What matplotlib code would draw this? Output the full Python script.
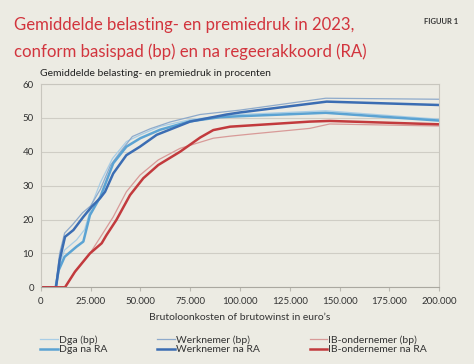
import matplotlib
matplotlib.use("Agg")
import matplotlib.pyplot as plt

# data (brutoloonkosten in euro, druk in procenten)
x_dga_bp = [0, 7500, 9000, 12000, 18000, 22000, 26000, 30000, 36000, 43000, 50000, 60000, 75000, 90000, 100000, 143000, 200000]
y_dga_bp = [0, 0, 6, 11, 14, 17, 25, 31, 38, 43, 45, 47.5, 49.5, 50.5, 51, 52.1, 49.6]

x_dga_ra = [0, 7500, 9000, 12000, 18000, 21400, 24700, 30000, 36400, 43000, 50000, 59900, 75000, 90000, 100000, 143000, 200000]
y_dga_ra = [0, 0, 5, 9, 12, 13.5, 21.3, 26.8, 36.6, 41.5, 44, 46.5, 49, 50.2, 50.5, 51.5, 49.2]

x_wn_bp = [0, 7500, 9500, 12000, 16000, 21000, 25000, 30000, 35000, 40000, 46000, 55000, 65000, 80000, 100000, 143000, 200000]
y_wn_bp = [0, 0, 10, 16, 18.5, 22, 24, 29, 36, 40, 44.5, 46.8, 48.8, 51, 52.3, 55.8, 55.5]

x_wn_ra = [0, 7700, 9500, 12200, 16400, 21400, 25600, 29800, 32300, 36400, 43000, 49800, 58200, 74900, 93300, 100000, 143500, 200000]
y_wn_ra = [0, 0, 8, 14.9, 16.9, 20.8, 23.8, 26.3, 28.2, 33.6, 39, 41.5, 45, 48.9, 51, 51.6, 54.8, 53.8]

x_ib_bp = [0, 12200, 17200, 24700, 30600, 36400, 43000, 49800, 59000, 69900, 86600, 95000, 105000, 135000, 145000, 200000]
y_ib_bp = [0, 0, 4.6, 10, 15.4, 20.8, 28.2, 33.1, 37.6, 41, 44, 44.6, 45.2, 46.9, 48.2, 47.6]

x_ib_ra = [0, 12200, 17200, 24700, 30600, 33000, 38000, 44800, 51500, 59000, 69900, 80000, 86600, 95000, 135000, 145000, 200000]
y_ib_ra = [0, 0, 4.6, 10, 13, 15.4, 19.9, 27.2, 32.2, 36.1, 40, 44.2, 46.4, 47.4, 48.9, 49.1, 48.1]

x_ticks = [0, 25000, 50000, 75000, 100000, 125000, 150000, 175000, 200000]
x_ticklabels = ["0", "25.000", "50.000", "75.000", "100.000", "125.000", "150.000", "175.000", "200.000"]
y_ticks = [0, 10, 20, 30, 40, 50, 60]

bg = "#ecebe3"
plt.rcParams["font.family"] = ["Lato", "DejaVu Sans"]

fig = plt.figure(figsize=(4.74, 3.64), dpi=100, facecolor=bg)
ax = fig.add_axes([40.7 / 474, 1 - 287.3 / 364, 398.6 / 474, 203.3 / 364])
ax.set_facecolor(bg)

ax.plot(x_dga_bp, y_dga_bp, color="#a8cde6", lw=0.9, label="Dga (bp)")
ax.plot(x_wn_bp, y_wn_bp, color="#8eaacb", lw=0.9, label="Werknemer (bp)")
ax.plot(x_ib_bp, y_ib_bp, color="#d89a98", lw=0.9, label="IB-ondernemer (bp)")
ax.plot(x_dga_ra, y_dga_ra, color="#5ba3d3", lw=1.8, label="Dga na RA")
ax.plot(x_wn_ra, y_wn_ra, color="#3b6db3", lw=1.8, label="Werknemer na RA")
ax.plot(x_ib_ra, y_ib_ra, color="#c23a3d", lw=1.8, label="IB-ondernemer na RA")

ax.set_xlim(0, 200000)
ax.set_ylim(0, 60)
ax.set_xticks(x_ticks)
ax.set_xticklabels(x_ticklabels)
ax.set_yticks(y_ticks)
ax.tick_params(axis="both", labelsize=7, colors="#333333", length=0, pad=5)
ax.tick_params(axis="x", length=3, color="#bcbab2", pad=4)
ax.grid(axis="y", color="#cfcdc5", lw=0.8)
ax.set_axisbelow(True)
for s in ax.spines.values():
    s.set_color("#c8c6be")
    s.set_linewidth(0.8)
ax.spines["bottom"].set_color("#aaa8a0")

ax.set_xlabel("Brutoloonkosten of brutowinst in euro\u2019s", fontsize=7.5, color="#333333", labelpad=5)

fig.text(14 / 474, 1 - 25 / 364, "Gemiddelde belasting- en premiedruk in 2023,",
         fontsize=12.1, color="#d2343d", va="center", ha="left")
fig.text(14 / 474, 1 - 52 / 364, "conform basispad (bp) en na regeerakkoord (RA)",
         fontsize=12.1, color="#d2343d", va="center", ha="left")
fig.text(458 / 474, 1 - 22 / 364, "FIGUUR 1", fontsize=5.5, fontweight="bold",
         color="#333333", va="center", ha="right")
fig.text(40 / 474, 1 - 74 / 364, "Gemiddelde belasting- en premiedruk in procenten",
         fontsize=7.5, color="#222222", va="center", ha="left")

h, l = ax.get_legend_handles_labels()
order = [0, 3, 1, 4, 2, 5]
leg = fig.legend([h[i] for i in order], [l[i] for i in order], ncol=3,
                 loc="center left", bbox_to_anchor=(40 / 474, 1 - 345 / 364),
                 frameon=False, fontsize=7.5, handlelength=1.7, handletextpad=0.1,
                 columnspacing=4.8, labelspacing=0.0, borderpad=0, borderaxespad=0)
for t in leg.get_texts():
    t.set_color("#333333")

fig.savefig("out.png", dpi=100, facecolor=bg)
